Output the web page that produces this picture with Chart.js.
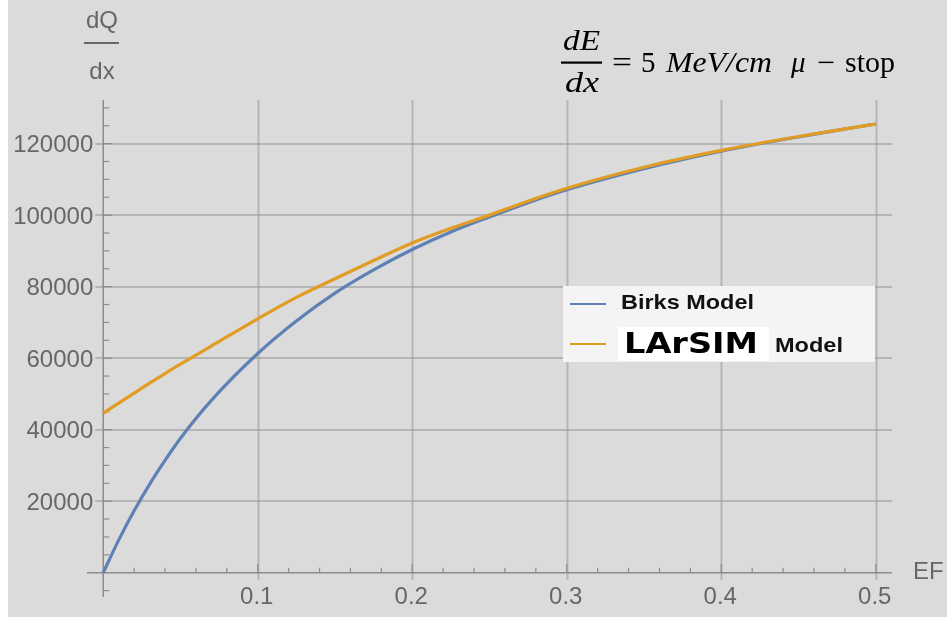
<!DOCTYPE html>
<html>
<head>
<meta charset="utf-8">
<script src="https://cdn.jsdelivr.net/npm/chart.js@4.4.1/dist/chart.umd.min.js"></script>
<style>
    html, body { margin: 0; padding: 0; background: #dbdbdb; }
    #wrap { width: 947px; height: 617px; position: relative; }
</style>
</head>
<body>
<div id="wrap"><canvas id="chart" width="947" height="617"></canvas></div>
<script>
// === Datos ===
const efValues = [0, 0.01, 0.02, 0.03, 0.04, 0.05, 0.07, 0.1, 0.125, 0.15, 0.175, 0.2, 0.225, 0.25, 0.275, 0.3, 0.35, 0.4, 0.45, 0.5];
const birksValues = [0, 9100, 17300, 24700, 31400, 37600, 48200, 61300, 70400, 78200, 84700, 90400, 95300, 99500, 103500, 107100, 113000, 117900, 121900, 125500];
const larsimValues = [44600, 47400, 50200, 53000, 55700, 58300, 63400, 71000, 77000, 82200, 87300, 92200, 96300, 100000, 103900, 107500, 113400, 118100, 122000, 125500];
const xTicks = [0.1, 0.2, 0.3, 0.4, 0.5];
const yTicks = [20000, 40000, 60000, 80000, 100000, 120000];
const seriesNames = ['Birks Model', 'LArSIM Model'];

const BLUE = '#5e81b5';
const ORANGE = '#e19c24';
const LABEL_GRAY = '#676767';

const toPoints = (xs, ys) => xs.map((x, i) => ({ x: x, y: ys[i] }));

// texto con ancho forzado (escala horizontal)
const drawText = (ctx, text, x, y, font, color, align, width) => {
    ctx.save();
    ctx.font = font;
    ctx.fillStyle = color;
    ctx.textBaseline = 'alphabetic';
    if (width) {
        const w = ctx.measureText(text).width;
        let left = x;
        if (align === 'center') left = x - width / 2;
        if (align === 'right') left = x - width;
        ctx.translate(left, y);
        ctx.scale(width / w, 1);
        ctx.textAlign = 'left';
        ctx.fillText(text, 0, 0);
    } else {
        ctx.textAlign = align || 'left';
        ctx.fillText(text, x, y);
    }
    ctx.restore();
};

const framePlugin = {
    id: 'frame',
    beforeDatasetsDraw(chart) {
        const ctx = chart.ctx;
        const xs = chart.scales.x;
        const ys = chart.scales.y;
        const x0 = xs.getPixelForValue(0);
        const y0 = ys.getPixelForValue(0);
        const area = chart.chartArea;

        ctx.save();
        // rejilla
        ctx.strokeStyle = 'rgba(150,150,150,0.55)';
        ctx.lineWidth = 2;
        xTicks.forEach(v => {
            const px = Math.round(xs.getPixelForValue(v)) + 0.5;
            ctx.beginPath();
            ctx.moveTo(px, area.top);
            ctx.lineTo(px, y0 + 7);
            ctx.stroke();
        });
        yTicks.forEach(v => {
            const py = Math.round(ys.getPixelForValue(v));
            ctx.beginPath();
            ctx.moveTo(x0 - 8, py);
            ctx.lineTo(area.right, py);
            ctx.stroke();
        });

        // ejes
        ctx.strokeStyle = '#8c8c8c';
        ctx.lineWidth = 1.5;
        ctx.beginPath();
        ctx.moveTo(area.left, y0);
        ctx.lineTo(area.right, y0);
        ctx.moveTo(x0, area.top);
        ctx.lineTo(x0, area.bottom);
        ctx.stroke();

        // marcas del eje x
        ctx.lineWidth = 1.2;
        for (let i = 1; i <= 25; i++) {
            const v = i * 0.02;
            const px = xs.getPixelForValue(v);
            const major = i % 5 === 0;
            ctx.beginPath();
            ctx.moveTo(px, y0);
            ctx.lineTo(px, y0 - (major ? 9 : 5));
            ctx.stroke();
        }
        // marcas del eje y
        for (let v = -5000; v <= 130000; v += 5000) {
            if (v === 0) continue;
            const py = ys.getPixelForValue(v);
            const major = v % 20000 === 0;
            ctx.beginPath();
            ctx.moveTo(x0, py);
            ctx.lineTo(x0 + (major ? 9 : 6), py);
            ctx.stroke();
        }
        ctx.restore();

        // etiquetas
        const tickFont = '24px "Liberation Sans", Arial, sans-serif';
        xTicks.forEach(v => {
            drawText(ctx, String(v), xs.getPixelForValue(v) - 1, y0 + 31, tickFont, LABEL_GRAY, 'center');
        });
        yTicks.forEach(v => {
            drawText(ctx, String(v), x0 - 10, ys.getPixelForValue(v) + 8.5, tickFont, LABEL_GRAY, 'right');
        });
        drawText(ctx, 'EF', 913, 579, tickFont, LABEL_GRAY, 'left');

        // etiqueta del eje y como fracción dQ/dx
        drawText(ctx, 'dQ', 102, 28, tickFont, LABEL_GRAY, 'center');
        ctx.fillStyle = LABEL_GRAY;
        ctx.fillRect(84, 42, 35, 2);
        drawText(ctx, 'dx', 102, 79, tickFont, LABEL_GRAY, 'center');
    },
    afterDraw(chart) {
        const ctx = chart.ctx;
        // título: dE/dx = 5 MeV/cm  μ − stop
        const serif = '"Liberation Serif", "DejaVu Serif", serif';
        const it = 'italic 29px ' + serif;
        const up = '29px ' + serif;
        drawText(ctx, 'dE', 581.5, 50, it, '#000', 'center', 37);
        ctx.fillStyle = '#000';
        ctx.fillRect(561, 61.5, 41, 2.2);
        drawText(ctx, 'dx', 582, 92, it, '#000', 'center', 34);
        drawText(ctx, '=', 612, 72, up, '#000', 'left', 20);
        drawText(ctx, '5', 641, 72, up, '#000', 'left');
        drawText(ctx, 'MeV/cm', 666, 72, it, '#000', 'left', 106);
        drawText(ctx, 'μ', 791, 72, it, '#000', 'left');
        drawText(ctx, '−', 817, 72, up, '#000', 'left', 18);
        drawText(ctx, 'stop', 845, 72, up, '#000', 'left', 50);

        // leyenda
        ctx.save();
        ctx.fillStyle = '#f4f4f4';
        ctx.fillRect(563, 286, 312, 76);
        ctx.fillStyle = '#ffffff';
        ctx.fillRect(618, 327, 151, 34);
        ctx.lineWidth = 2.2;
        ctx.strokeStyle = BLUE;
        ctx.beginPath();
        ctx.moveTo(570, 304);
        ctx.lineTo(606, 304);
        ctx.stroke();
        ctx.strokeStyle = ORANGE;
        ctx.beginPath();
        ctx.moveTo(570, 344);
        ctx.lineTo(606, 344);
        ctx.stroke();
        ctx.restore();
        const boldSans = 'bold 21px "Liberation Sans", Arial, sans-serif';
        drawText(ctx, seriesNames[0], 621, 309, boldSans, '#111', 'left', 133);
        const parts = seriesNames[1].split(' ');
        drawText(ctx, parts[0], 624, 353, 'bold 28px "DejaVu Sans", sans-serif', '#000', 'left', 134);
        drawText(ctx, parts[1], 775, 352, boldSans, '#111', 'left', 68);

        // franja blanca izquierda
        ctx.fillStyle = '#ffffff';
        ctx.fillRect(0, 0, 8, 617);
    }
};

const ctx = document.getElementById('chart').getContext('2d');
new Chart(ctx, {
    type: 'line',
    data: {
        datasets: [
            {
                label: seriesNames[0],
                data: toPoints(efValues, birksValues),
                borderColor: BLUE,
                borderWidth: 3.2,
                pointRadius: 0,
                cubicInterpolationMode: 'monotone',
                fill: false,
                order: 1
            },
            {
                label: seriesNames[1],
                data: toPoints(efValues, larsimValues),
                borderColor: ORANGE,
                borderWidth: 3.2,
                pointRadius: 0,
                cubicInterpolationMode: 'monotone',
                fill: false,
                order: 0
            }
        ]
    },
    options: {
        responsive: false,
        animation: false,
        devicePixelRatio: 1,
        layout: { padding: { left: 87, right: 55, top: 100, bottom: 20 } },
        scales: {
            x: { type: 'linear', min: -0.0105, max: 0.5105, display: false },
            y: { type: 'linear', min: -6800, max: 132200, display: false }
        },
        plugins: {
            legend: { display: false },
            title: { display: false },
            tooltip: { enabled: false }
        }
    },
    plugins: [framePlugin]
});
</script>
</body>
</html>
